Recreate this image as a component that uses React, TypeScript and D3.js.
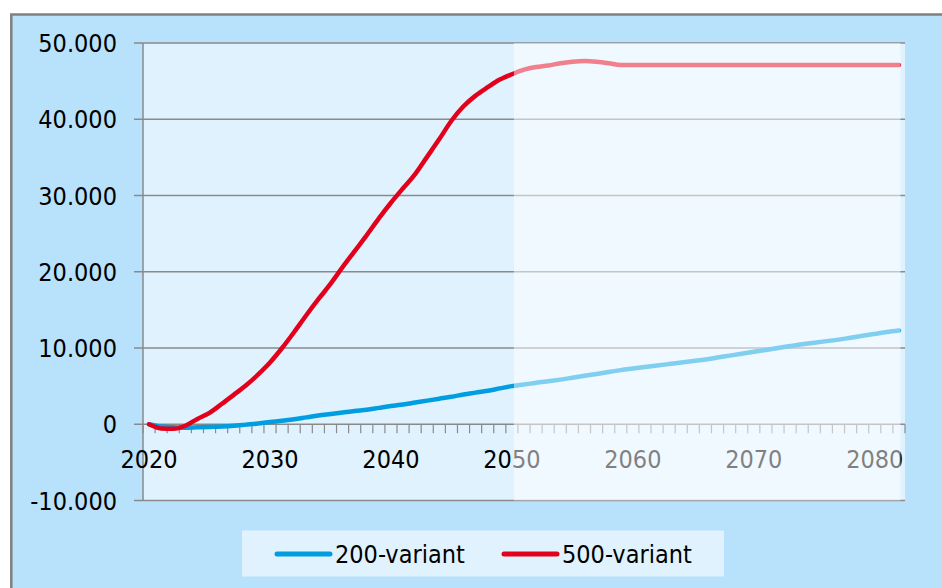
import React from "react";
import * as d3 from "d3";

const years: number[] = d3.range(2020, 2083);

const variant200: number[] = [
  0, -0.3, -0.4, -0.45, -0.4, -0.35, -0.3, -0.2, -0.05, 0.1,
  0.3, 0.45, 0.65, 0.9, 1.15, 1.35, 1.55, 1.75, 1.9, 2.15,
  2.4, 2.6, 2.85, 3.1, 3.35, 3.6, 3.9, 4.15, 4.4, 4.7,
  5.0, 5.2, 5.45, 5.65, 5.85, 6.1, 6.35, 6.6, 6.85, 7.1,
  7.3, 7.5, 7.7, 7.9, 8.1, 8.3, 8.5, 8.75, 9.0, 9.25,
  9.5, 9.75, 10.0, 10.25, 10.5, 10.7, 10.9, 11.1, 11.35, 11.6,
  11.85, 12.1, 12.3,
].map((v) => v * 1000);

const variant500: number[] = [
  0, -0.55, -0.6, -0.2, 0.7, 1.5, 2.65, 3.85, 5.07, 6.5,
  8.1, 10.0, 12.1, 14.3, 16.4, 18.4, 20.6, 22.7, 24.8, 27.0,
  29.05, 30.95, 32.8, 35.1, 37.4, 39.8, 41.7, 43.1, 44.2, 45.2,
  45.9, 46.5, 46.85, 47.05, 47.35, 47.55, 47.65, 47.55, 47.35, 47.1,
  47.1, 47.1, 47.1, 47.1, 47.1, 47.1, 47.1, 47.1, 47.1, 47.1,
  47.1, 47.1, 47.1, 47.1, 47.1, 47.1, 47.1, 47.1, 47.1, 47.1,
  47.1, 47.1, 47.1,
].map((v) => v * 1000);

const yTicks: number[] = [-10000, 0, 10000, 20000, 30000, 40000, 50000];
const xLabelYears: number[] = [2020, 2030, 2040, 2050, 2060, 2070, 2080];
const projectionStart = 2050;

const seriesNames = ["200-variant", "500-variant"];
const seriesColors = ["#009ee0", "#e2001a"];

const W = 942;
const H = 588;
const FONT = "'DejaVu Sans Condensed', 'DejaVu Sans', sans-serif";

export default function App() {
  const left = 143;
  const right = 905;
  const top = 43;
  const bottom = 500.5;

  const x = d3.scaleBand<number>().domain(years).range([left, right]).padding(0);
  const cx = (yr: number) => (x(yr) as number) + x.bandwidth() / 2;
  const y = d3.scaleLinear().domain([-10000, 50000]).range([bottom, top]);

  const fmt = (v: number) =>
    v === 0 ? "0" : d3.format(",")(v).replace(/,/g, ".").replace("\u2212", "-");

  const line = d3
    .line<number>()
    .x((_, i) => cx(years[i]))
    .y((d) => y(d))
    .curve(d3.curveMonotoneX);

  const series = [variant200, variant500];
  const y0 = y(0);
  const overlayX0 = cx(projectionStart) + 2;
  const overlayX1 = cx(years[years.length - 1]) + 1.5;

  const tickXs = d3.range(years.length + 1).map((k) => left + k * x.bandwidth());

  return (
    <svg
      width={W}
      height={H}
      style={{ position: "absolute", left: 0, top: 0, display: "block" }}
      fontFamily={FONT}
      fontStretch="condensed"
    >
      <rect x={0} y={0} width={W} height={H} fill="#ffffff" />
      <rect x={11.3} y={14.5} width={W + 20} height={H + 20} fill="#b8e2fc" stroke="#808080" strokeWidth={2.5} />

      {/* plot background */}
      <rect x={left} y={top} width={right - left} height={bottom - top} fill="#e0f2fe" />

      {/* gridlines */}
      {yTicks.map((t) => (
        <g key={t}>
          <line x1={left} x2={right} y1={y(t)} y2={y(t)} stroke="#8a8a8a" strokeWidth={1.5} />
          <line x1={134} x2={left} y1={y(t)} y2={y(t)} stroke="#8a8a8a" strokeWidth={1.5} />
          <text x={117} y={y(t)} dy={9} textAnchor="end" fontSize={25} fill="#000">
            {fmt(t)}
          </text>
        </g>
      ))}

      {/* y axis line */}
      <line x1={left} x2={left} y1={top} y2={bottom} stroke="#8a8a8a" strokeWidth={1.5} />

      {/* x axis ticks */}
      {tickXs.map((tx, i) => (
        <line key={i} x1={tx} x2={tx} y1={y0} y2={y0 + 9} stroke="#8a8a8a" strokeWidth={1.2} />
      ))}

      {/* x labels */}
      {xLabelYears.map((yr) => (
        <text key={yr} x={cx(yr)} y={468} textAnchor="middle" fontSize={25} fill="#000">
          {yr}
        </text>
      ))}

      {/* lines */}
      {series.map((s, i) => (
        <path
          key={i}
          d={line(s) || ""}
          fill="none"
          stroke={seriesColors[i]}
          strokeWidth={4.5}
          strokeLinejoin="round"
          strokeLinecap="round"
        />
      ))}

      {/* projection overlay */}
      <rect x={overlayX0} y={top} width={overlayX1 - overlayX0} height={bottom - top} fill="#ffffff" fillOpacity={0.5} />

      {/* legend */}
      <rect x={242} y={530.5} width={482} height={46} fill="#e0f2fe" />
      {seriesNames.map((name, i) => {
        const lx = i === 0 ? 277 : 504;
        return (
          <g key={name}>
            <line x1={lx} x2={lx + 53} y1={554} y2={554} stroke={seriesColors[i]} strokeWidth={5} strokeLinecap="round" />
            <text x={lx + 58} y={562.5} fontSize={25} fill="#000">
              {name}
            </text>
          </g>
        );
      })}
    </svg>
  );
}
